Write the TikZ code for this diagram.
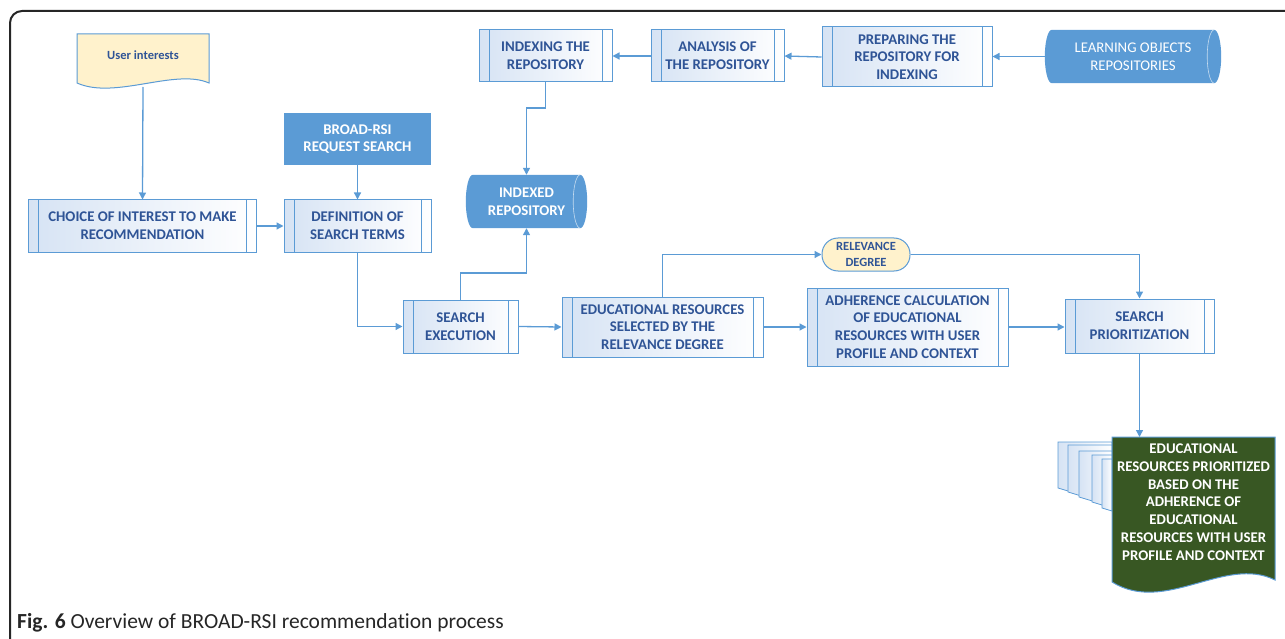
\documentclass[tikz,border=0pt]{standalone}
\usepackage{fontspec}
\setmainfont{Carlito}[RawFeature=-liga]
\usetikzlibrary{arrows.meta}
\definecolor{bl}{RGB}{91,155,213}
\definecolor{tx}{RGB}{47,84,150}
\definecolor{yl}{RGB}{255,242,204}
\definecolor{gr}{RGB}{56,87,35}
\definecolor{pg}{RGB}{214,227,244}
\newcommand\hcylshape[3]{% node, rx, half height
  \fill[bl] ([xshift=#2]#1.north west) -- ([xshift=-#2]#1.north east)
    .. controls ([xshift=-0.45*#2]#1.north east) and ([yshift=0.55*#3]#1.east) .. (#1.east)
    .. controls ([yshift=-0.55*#3]#1.east) and ([xshift=-0.45*#2]#1.south east) .. ([xshift=-#2]#1.south east)
    -- ([xshift=#2]#1.south west)
    .. controls ([xshift=0.45*#2]#1.south west) and ([yshift=-0.55*#3]#1.west) .. (#1.west)
    .. controls ([yshift=0.55*#3]#1.west) and ([xshift=0.45*#2]#1.north west) .. ([xshift=#2]#1.north west) -- cycle;
  \draw[white!65!bl,line width=0.6pt] ([xshift=-#2]#1.north east)
    .. controls ([xshift=-1.55*#2]#1.north east) and ([xshift=-2*#2,yshift=0.55*#3]#1.east) .. ([xshift=-2*#2]#1.east)
    .. controls ([xshift=-2*#2,yshift=-0.55*#3]#1.east) and ([xshift=-1.55*#2]#1.south east) .. ([xshift=-#2]#1.south east);
}
\begin{document}
\begin{tikzpicture}[x=1pt,y=-1pt,
  conn/.style={draw=bl,line width=1.3pt,-{Triangle[length=7pt,width=7pt]}},
  bfont/.style={font=\bfseries\fontsize{14.8}{17.8}\selectfont},
  proc/.style={draw=bl,line width=1pt,left color=pg,right color=white,
    bfont,text=tx,align=center,inner sep=0pt,
    path picture={\draw[bl,line width=1pt]
      ([xshift=10pt]path picture bounding box.north west) -- ([xshift=10pt]path picture bounding box.south west)
      ([xshift=-10pt]path picture bounding box.north east) -- ([xshift=-10pt]path picture bounding box.south east);}},
  cyltext/.style={text=white,align=center,inner sep=0pt},
]
\useasboundingbox (0,0) rectangle (1285,639);
% frame
\draw[line width=2pt,black!85,rounded corners=12pt] (10,650) -- (10,11) -- (1295,11);

% user interests document
\filldraw[fill=yl,draw=bl,line width=1pt] (77,34) -- (209,34) -- (209,83)
  .. controls (175,68) and (115,100) .. (77,83) -- cycle;
\node[font=\bfseries\fontsize{12.5}{14}\selectfont,text=tx] (ui) at (143,55) {User interests};
\coordinate (uib) at (143,87);

% process boxes
\node[proc,minimum width=228pt,minimum height=52pt] (choice) at (142.5,226) {CHOICE OF INTEREST TO MAKE\\RECOMMENDATION};
\node[proc,minimum width=147pt,minimum height=52pt] (defn) at (357.5,226) {DEFINITION OF\\SEARCH TERMS};
\node[fill=bl,text=white,bfont,align=center,inner sep=0pt,
  minimum width=147pt,minimum height=52pt] (broad) at (357.5,139) {BROAD-RSI\\REQUEST SEARCH};
\node[proc,minimum width=115pt,minimum height=53pt] (sexec) at (460.5,326.5) {SEARCH\\EXECUTION};
\node[proc,minimum width=201pt,minimum height=60pt] (edu) at (662.5,327) {EDUCATIONAL RESOURCES\\SELECTED BY THE\\RELEVANCE DEGREE};
\node[proc,minimum width=201pt,minimum height=78pt] (adh) at (907.5,327) {ADHERENCE CALCULATION\\OF EDUCATIONAL\\RESOURCES WITH USER\\PROFILE AND CONTEXT};
\node[proc,minimum width=149pt,minimum height=54pt] (sprio) at (1139.5,326) {SEARCH\\PRIORITIZATION};
\node[proc,minimum width=133pt,minimum height=52pt] (idx) at (545.5,56) {INDEXING THE\\REPOSITORY};
\node[proc,minimum width=133pt,minimum height=52pt] (ana) at (717.5,56) {ANALYSIS OF\\THE REPOSITORY};
\node[proc,minimum width=170pt,minimum height=60pt] (prep) at (907,57) {PREPARING THE\\REPOSITORY FOR\\INDEXING};

% cylinders
\path (526.5,201.5) node[minimum width=121pt,minimum height=53pt,inner sep=0pt] (ir) {};
\hcylshape{ir}{7pt}{26.5pt}
\node[cyltext,bfont] (irt) at (ir) {INDEXED\\REPOSITORY};
\path (1133,56.5) node[minimum width=176pt,minimum height=53pt,inner sep=0pt] (lor) {};
\hcylshape{lor}{7pt}{26.5pt}
\node[cyltext,font=\fontsize{14.8}{17.8}\selectfont] (lort) at (lor) {LEARNING OBJECTS\\REPOSITORIES};

% relevance degree
\node[draw=bl,line width=1pt,fill=yl,rounded corners=16pt,minimum width=88pt,minimum height=33pt,
  font=\bfseries\fontsize{12.5}{15.5}\selectfont,text=tx,align=center,inner sep=0pt] (rel) at (866,254.5) {RELEVANCE\\DEGREE};

% multi-document output
\foreach \xl/\yt/\yb in {1058/442/488,1068/445/492,1079/451/497,1092/455/502,1102/459/508}{
  \path[draw=bl,line width=0.8pt,left color=pg,right color=white]
    (\xl,\yt) -- (1112,\yt) -- (1112,{\yb+(1112-\xl)*0.3}) -- (\xl,\yb) -- cycle;
}
\filldraw[fill=gr,draw=bl,line width=1pt] (1112,437) -- (1275,437) -- (1275,580)
  .. controls (1225,555) and (1165,615) .. (1112,582) -- cycle;
\node[text=white,bfont,align=center,inner sep=0pt] (out) at (1193.5,502)
  {EDUCATIONAL\\RESOURCES PRIORITIZED\\BASED ON THE\\ADHERENCE OF\\EDUCATIONAL\\RESOURCES WITH USER\\PROFILE AND CONTEXT};
\coordinate (outtop) at (1139.5,437);

% connectors
\coordinate (j1) at (526.5,273);
\coordinate (j2) at (526.5,108);
\draw[conn] (uib) -- (choice.north);
\draw[conn] (choice.east) -- (defn.west);
\draw[conn] (broad.south) -- (defn.north);
\draw[conn] (defn.south) |- (sexec.west);
\draw[conn] (sexec.north) |- (j1) -- (ir.south);
\draw[conn] (idx.south) |- (j2) -- (ir.north);
\draw[conn] (ana.west) -- (idx.east);
\draw[conn] (prep.west) -- (ana.east);
\draw[conn] (lor.west) -- (lor.west -| prep.east);
\draw[conn] (sexec.east) -- (edu.west);
\draw[conn] (edu.east) -- (adh.west);
\draw[conn] (adh.east) -- (adh.east -| sprio.west);
\draw[conn] (edu.north) |- (rel.west);
\draw[conn] (rel.east) -| (sprio.north);
\draw[conn] (sprio.south) -- (outtop);

% caption
\node[anchor=base west,font=\fontsize{21.5}{24}\selectfont,text=black!85,inner sep=0pt] (cap) at (17,628)
  {\textbf{Fig. 6} Overview of BROAD-RSI recommendation process};
\end{tikzpicture}
\end{document}
